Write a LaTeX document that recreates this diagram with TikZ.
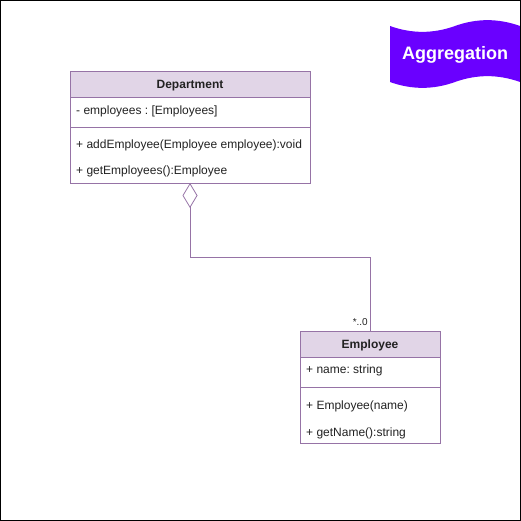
\documentclass[tikz,border=0pt]{standalone}
\usepackage{fontspec}
\setmainfont{Liberation Sans}
\usepackage{tikz}
\usetikzlibrary{arrows.meta,positioning,calc}
\definecolor{UmlLine}{HTML}{9673A6}
\definecolor{UmlHead}{HTML}{E1D5E7}
\definecolor{TagPurple}{HTML}{6A00FF}
\definecolor{TextGrey}{HTML}{222222}
\frenchspacing

\begin{document}
\begin{tikzpicture}[x=1pt,y=-1pt,>=Latex,
  font=\fontsize{12}{14}\selectfont,
  classhead/.style={draw=UmlLine,fill=UmlHead,line width=0.8pt,minimum height=26pt,inner sep=0pt,outer sep=0pt,text height=8.6pt,text depth=0pt,font=\fontsize{12}{14}\selectfont\bfseries,text=TextGrey},
  classpart/.style={draw=UmlLine,fill=white,line width=0.8pt,inner sep=0pt,outer sep=0pt},
  member/.style={anchor=west,inner sep=0pt,text height=8.6pt,text depth=0pt,text=TextGrey},
  assoc/.style={UmlLine,line width=0.8pt}]
  \useasboundingbox (0,0) rectangle (521,521);

  % banner
  \fill[TagPurple] (390,26) .. controls (411.7,33.8) and (433.3,33.8) .. (455,26)
    .. controls (476.7,18.2) and (498.3,18.2) .. (520,26) -- (520,82)
    .. controls (498.3,74.2) and (476.7,74.2) .. (455,82)
    .. controls (433.3,89.8) and (411.7,89.8) .. (390,82) -- cycle;
  \node[text=white,font=\fontsize{18}{21}\selectfont\bfseries] (tag) at (455,55) {Aggregation};

  % Department class
  \node[classhead,minimum width=240pt] (dept) at (190,84) {Department};
  \node[classpart,minimum width=240pt,minimum height=30pt,below=0pt of dept] (deptattr) {};
  \node[classpart,minimum width=240pt,minimum height=56pt,below=0pt of deptattr] (deptops) {};
  \node[member] (depta) at ([xshift=6pt,yshift=2pt]deptattr.west) {- employees : [Employees]};
  \node[member] (depto1) at (76,144) {+ addEmployee(Employee employee):void};
  \node[member] (depto2) at (76,170) {+ getEmployees():Employee};

  % Employee class
  \node[classhead,minimum width=140pt] (emp) at (370,344) {Employee};
  \node[classpart,minimum width=140pt,minimum height=30pt,below=0pt of emp] (empattr) {};
  \node[classpart,minimum width=140pt,minimum height=56pt,below=0pt of empattr] (empops) {};
  \node[member] (empa) at ([xshift=6pt,yshift=3pt]empattr.west) {+ name: string};
  \node[member] (empo1) at (306,405) {+ Employee(name)};
  \node[member] (empo2) at (306,432) {+ getName():string};

  % aggregation
  \coordinate (bend) at (190,257);
  \draw[assoc,{Diamond[open,length=25pt,width=15pt,line width=0.8pt]}-] (deptops.south) -- (bend) -| (emp.north);
  \node[anchor=south east,inner sep=0pt,text=TextGrey,font=\fontsize{10}{12}\selectfont] (mult) at ([xshift=-2pt,yshift=5pt]emp.north) {*..0};

  \draw[black,line width=1pt] (0.5,0.5) rectangle (520.5,520.5);
\end{tikzpicture}
\end{document}
